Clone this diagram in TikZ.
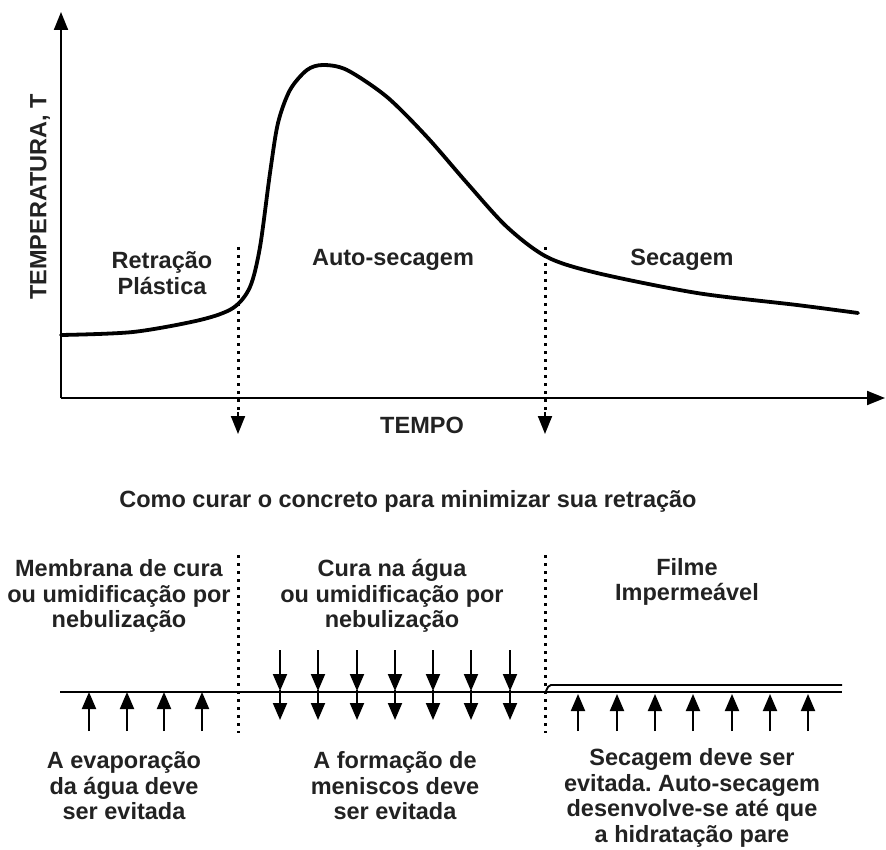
\documentclass[tikz,border=0pt]{standalone}
\usepackage{fontspec}
\setmainfont{Liberation Sans}
\usetikzlibrary{arrows.meta}
\frenchspacing
\definecolor{txt}{HTML}{222222}
\tikzset{
  lbl/.style={inner sep=0pt, align=center, text=txt, font=\fontsize{23.5}{25.5}\selectfont\bfseries},
  axisline/.style={line width=1.9pt, -{Triangle[length=18pt,width=14pt]}},
  dots/.style={line width=3pt, dash pattern=on 3pt off 5pt, line cap=butt},
  dnarrow/.style={line width=1.9pt, -{Triangle[length=18pt,width=14pt]}},
  smallarrow/.style={line width=1.9pt, -{Triangle[length=17pt,width=14pt]}},
  surf/.style={line width=1.9pt},
}
\begin{document}
\begin{tikzpicture}[x=1pt,y=-1pt]
\useasboundingbox (0,0) rectangle (886,850);
% axes
\coordinate (O) at (61,398);
\coordinate (Ytop) at (61,12);
\coordinate (Xend) at (885,398);
\draw[axisline] (O) -- (Ytop);
\draw[axisline] (O) -- (Xend);
% curve
\draw[line width=3.8pt, line cap=round] plot[smooth, tension=0.5] coordinates {
 (61,335) (133,332) (200,320) (233,308) (250,287) (260,247) (270,173) (278,123)
 (290,90) (307,70) (323,65) (347,70) (387,97) (427,137) (467,183) (507,227)
 (547,257) (597,273) (697,293) (797,305) (858,313)};
% dotted separators with arrows
\coordinate (d1top) at (238,247);
\coordinate (d1bot) at (238,414);
\coordinate (d1tip) at (238,434);
\coordinate (d2top) at (545,247);
\coordinate (d2bot) at (545,414);
\coordinate (d2tip) at (545,434);
\draw[dots] (d1top) -- (d1bot);
\draw[dots] (d2top) -- (d2bot);
\draw[dnarrow] (238,412) -- (d1tip);
\draw[dnarrow] (545,412) -- (d2tip);
% labels in chart
\node[lbl] (ylab) at (40,197) [rotate=90] {TEMPERATURA, T};
\node[lbl] (rp) at (162,273) {Retração\\Plástica};
\node[lbl] (as) at (393,260) {Auto-secagem};
\node[lbl] (sec) at (682,260) {Secagem};
\node[lbl] (tempo) at (422,425) {TEMPO};
% title
\node[lbl] (title) at (408,501) {Como curar o concreto para minimizar sua retração};
% bottom separators
\coordinate (b1top) at (238,555);
\coordinate (b1bot) at (238,733);
\coordinate (b2top) at (545,555);
\coordinate (b2bot) at (545,733);
\draw[dots] (b1top) -- (b1bot);
\draw[dots] (b2top) -- (b2bot);
% surface lines
\coordinate (sL) at (60,692);
\coordinate (sR) at (842,692);
\draw[surf] (sL) -- (sR);
\coordinate (fL) at (546,691);
\coordinate (fR) at (842,685);
\draw[surf, rounded corners=2pt] (fL) -- (549,685) -- (fR);
% left up arrows
\foreach \x in {89,127,164,202} {
  \draw[smallarrow] (\x,731) -- (\x,692);
}
% middle down arrows (double)
\foreach \x in {280,318,357,395,433,471,510} {
  \draw[smallarrow] (\x,650) -- (\x,691);
  \draw[smallarrow] (\x,690) -- (\x,720);
}
% right up arrows
\foreach \x in {578,617,655,693,732,770,808} {
  \draw[smallarrow] (\x,731) -- (\x,694);
}
% top texts
\node[lbl] (t1) at (119,596) {Membrana de cura\\ou umidificação por\\nebulização};
\node[lbl] (t2) at (392,596) {Cura na água\\ou umidificação por\\nebulização};
\node[lbl] (t3) at (687,582) {Filme\\Impermeável};
% bottom texts
\node[lbl] (b1) at (124,786) {A evaporação\\da água deve\\ser evitada};
\node[lbl] (b2) at (395,786) {A formação de\\meniscos deve\\ser evitada};
\node[lbl] (b3) at (692,798) {Secagem deve ser\\evitada. Auto-secagem\\desenvolve-se até que\\a hidratação pare};
\end{tikzpicture}
\end{document}
